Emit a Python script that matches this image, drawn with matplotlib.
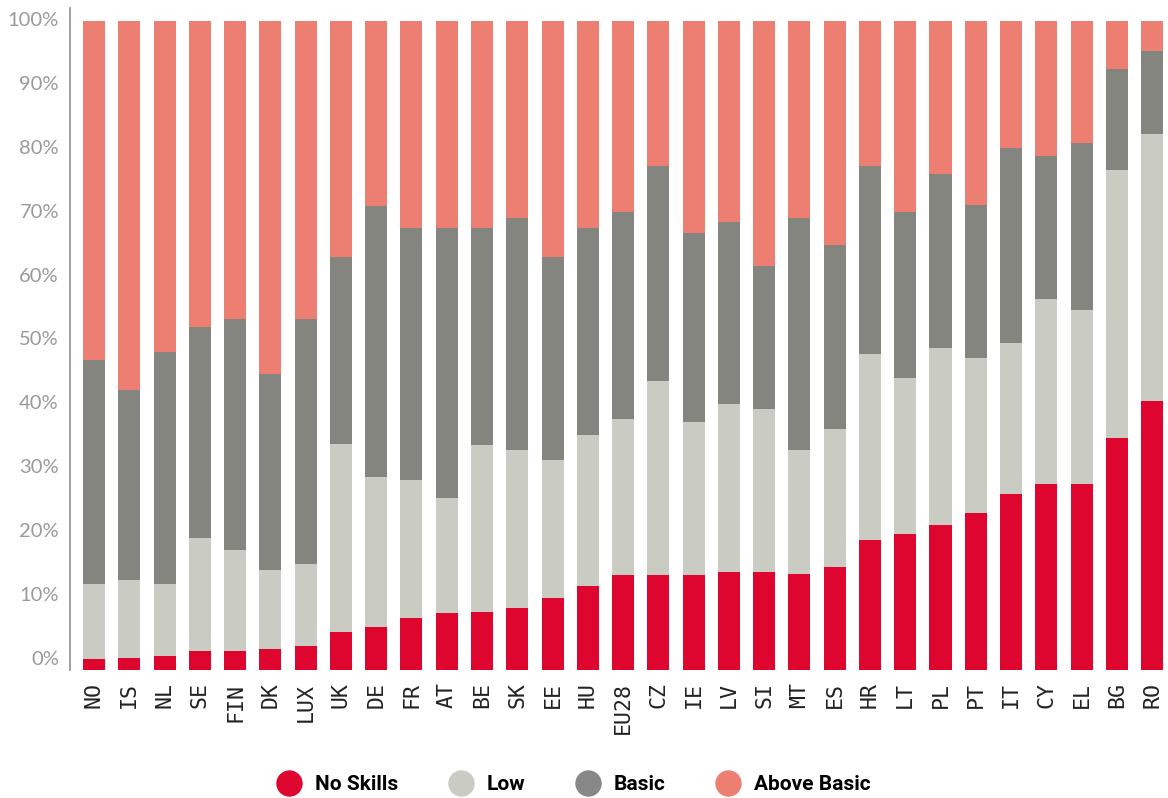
import matplotlib
matplotlib.use("Agg")
import matplotlib.pyplot as plt
from matplotlib.lines import Line2D
import numpy as np

countries = ["NO", "IS", "NL", "SE", "FIN", "DK", "LUX", "UK", "DE", "FR", "AT", "BE",
             "SK", "EE", "HU", "EU28", "CZ", "IE", "LV", "SI", "MT", "ES", "HR", "LT",
             "PL", "PT", "IT", "CY", "EL", "BG", "RO"]
# cumulative tops (percent)
no_skills_top = [1.7, 1.8, 2.2, 3.0, 3.0, 3.3, 3.75, 5.9, 6.6, 8.0, 8.8, 9.0,
                 9.6, 11.1, 13.0, 14.7, 14.7, 14.7, 15.1, 15.1, 14.8, 15.9, 20.1, 21.0,
                 22.4, 24.2, 27.1, 28.7, 28.7, 35.7, 41.5]
low_top = [13.3, 13.8, 13.3, 20.3, 18.5, 15.4, 16.3, 34.8, 29.8, 29.2, 26.5, 34.7,
           33.9, 32.4, 36.2, 38.7, 44.6, 38.2, 41.0, 40.2, 33.9, 37.1, 48.7, 45.0,
           49.6, 48.1, 50.4, 57.2, 55.5, 77.1, 82.6]
basic_top = [47.8, 43.2, 49.0, 52.9, 54.1, 45.6, 54.1, 63.7, 71.5, 68.1, 68.1, 68.1,
             69.7, 63.7, 68.1, 70.6, 77.7, 67.3, 69.1, 62.3, 69.7, 65.5, 77.7, 70.6,
             76.4, 71.7, 80.4, 79.2, 81.2, 92.6, 95.4]
total = 100.0

series_names = ["No Skills", "Low", "Basic", "Above Basic"]
colors = ["#DE052F", "#CACCC3", "#83857E", "#ED7F72"]
legend_colors = ["#DE052F", "#CACCC3", "#878787", "#ED7F72"]

no_skills = np.array(no_skills_top)
low = np.array(low_top) - no_skills
basic = np.array(basic_top) - np.array(low_top)
above = total - np.array(basic_top)

W, H = 1168, 798
fig = plt.figure(figsize=(W / 100, H / 100), dpi=100)
ax = fig.add_axes([70 / W, 1 - 670 / H, (W - 70) / W, 662 / H])

x = np.arange(len(countries))
bw = 0.624
bottom = np.zeros(len(countries))
for vals, c in zip([no_skills, low, basic, above], colors):
    ax.bar(x, vals, bottom=bottom, width=bw, color=c, linewidth=0)
    bottom = bottom + vals

ax.set_xlim(-0.68, 30.45)
ax.set_ylim(0, 102)

for s in ["top", "right", "bottom"]:
    ax.spines[s].set_visible(False)
ax.spines["left"].set_color("#999999")
ax.spines["left"].set_linewidth(1.3)

yt = np.arange(0, 101, 10)
ax.set_yticks(1.85 + 0.9846 * yt)
ax.set_yticklabels([f"{t}%" for t in yt], fontsize=14.5, color="#9a9a9a",
                   family=["Lato", "DejaVu Sans"])
ax.tick_params(axis="y", length=0, pad=8)

ax.set_xticks(x)
ax.set_xticklabels(countries, rotation=90, fontsize=15.5, color="#222222",
                   family=["DejaVu Sans Mono"], va="top", ha="center")
ax.tick_params(axis="x", length=0, pad=9)

handles = [Line2D([], [], marker="o", linestyle="none", markersize=19,
                  markerfacecolor=c, markeredgecolor="none") for c in legend_colors]
leg = fig.legend(handles, series_names, loc="center", ncol=4,
                 bbox_to_anchor=(0.492, 1 - 785 / H), frameon=False,
                 prop={"family": "Roboto", "weight": "bold", "size": 15},
                 handlelength=1.0, handletextpad=0.75, columnspacing=2.5)

fig.savefig("out.png", dpi=100)
